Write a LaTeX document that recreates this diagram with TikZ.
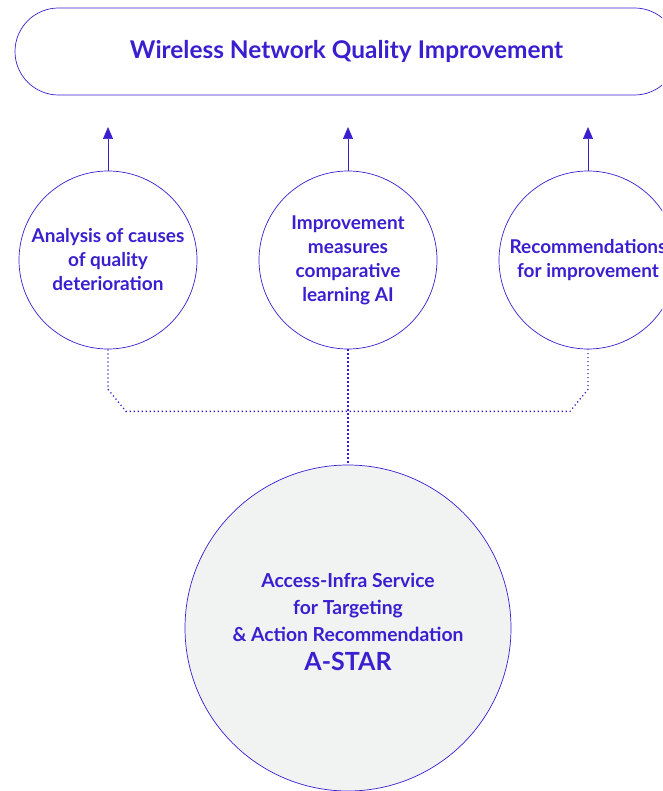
\documentclass[tikz,border=0pt]{standalone}
\usepackage{fontspec}
\setmainfont{Lato}
\usepackage{tikz}
\usetikzlibrary{positioning,calc,arrows.meta}

\definecolor{ink}{HTML}{3A1FD0}
\definecolor{hub}{HTML}{F1F2F2}

\tikzset{
  goal/.style={draw=ink, line width=0.7pt, rounded corners=43.5pt,
    minimum width=663pt, minimum height=87pt, text=ink,
    font=\fontsize{24.4}{28}\selectfont\bfseries},
  topic/.style={circle, draw=ink, line width=0.7pt, minimum size=178pt,
    inner sep=0pt, align=center, text=ink,
    font=\fontsize{19}{24}\selectfont\bfseries},
  core/.style={circle, draw=ink, fill=hub, line width=0.7pt,
    minimum size=326pt, inner sep=0pt, align=center, text=ink,
    font=\fontsize{19.3}{27}\selectfont\bfseries},
  uparrow/.style={draw=ink, line width=0.7pt, -{Triangle[length=12pt,width=10pt]}},
  dotline/.style={draw=ink, line width=1.3pt, dash pattern=on 1.2pt off 2.8pt}
}

\begin{document}
\begin{tikzpicture}[x=1pt,y=-1pt]
    \useasboundingbox (0,0) rectangle (662,791);
    \clip (0,0) rectangle (662,791);

    % Goal
    \node[goal] (goal) at (346.5,51.5) {Wireless Network Quality Improvement};

    % Three topics
    \node[topic] (cause) at (108,260) {Analysis of causes\\of quality\\deterioration};
    \node[topic] (learn) at (348,260) {Improvement\\measures\\comparative\\learning AI};
    \node[topic] (recom) at (588,260) {Recommendations\\for improvement};

    \coordinate (t1) at (108,127);
    \coordinate (t2) at (348,127);
    \coordinate (t3) at (588,127);
    \draw[uparrow] (cause.north) -- (t1);
    \draw[uparrow] (learn.north) -- (t2);
    \draw[uparrow] (recom.north) -- (t3);

    % Hub
    \node[core] (astar) at (348,628) {Access-Infra Service\\for Targeting\\\& Action Recommendation\\[2pt]{\fontsize{25}{28}\selectfont A-STAR}\\[-15pt]\mbox{}};

    \draw[dotline] (cause.south) -- ++(0,40) -- ++(18,22) -- ($(recom.south)+(-18,62)$) -- ++(18,-22) -- (recom.south);
    \draw[dotline] (learn.south) -- (astar.north);
\end{tikzpicture}
\end{document}
